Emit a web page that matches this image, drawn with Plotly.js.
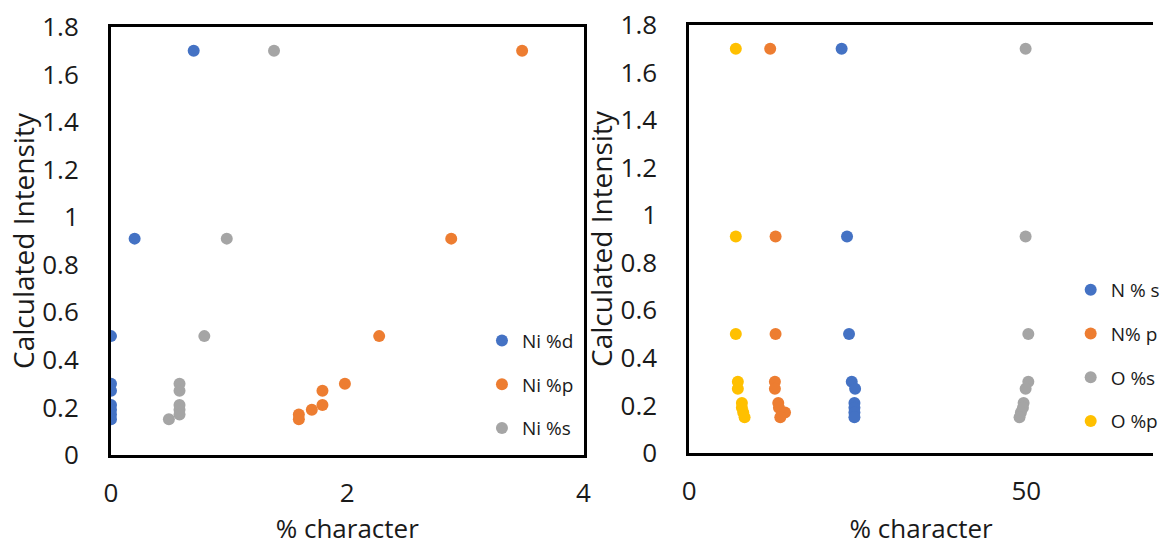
<!DOCTYPE html>
<html>
<head>
<meta charset="utf-8">
<script src="https://cdn.plot.ly/plotly-3.0.1.min.js"></script>
<style>
html,body{margin:0;padding:0;background:#fff;overflow:hidden;}
#chart{width:1165px;height:546px;}
</style>
</head>
<body>
<div id="chart"></div>
<script>
// Shared intensity levels (y values) for every series
const intensity = [1.70, 0.91, 0.50, 0.30, 0.27, 0.21, 0.19, 0.17, 0.15];

// Left panel: Ni character (%)
const niD = [0.70, 0.20, 0, 0, 0, 0, 0, 0, 0];
const niP = [3.48, 2.88, 2.27, 1.98, 1.79, 1.79, 1.70, 1.59, 1.59];
const niS = [1.38, 0.98, 0.79, 0.58, 0.58, 0.58, 0.58, 0.58, 0.49];

// Right panel: N and O character (%)
const nS = [22.6, 23.4, 23.7, 24.1, 24.6, 24.5, 24.5, 24.5, 24.5];
const nP = [12.0, 12.8, 12.8, 12.7, 12.7, 13.2, 13.3, 14.2, 13.5];
const oS = [49.9, 49.9, 50.3, 50.3, 49.9, 49.6, 49.5, 49.2, 49.0];
const oP = [6.9, 6.9, 6.9, 7.2, 7.2, 7.8, 7.8, 8.0, 8.2];

const leftNames = ['Ni %d', 'Ni %p', 'Ni %s'];
const rightNames = ['N % s', 'N% p', 'O %s', 'O %p'];
const yTicks = [0, 0.2, 0.4, 0.6, 0.8, 1, 1.2, 1.4, 1.6, 1.8];
const yTickText = ['0', '0.2', '0.4', '0.6', '0.8', '1', '1.2', '1.4', '1.6', '1.8'];

const C = {blue:'#4472C4', orange:'#ED7D31', gray:'#A5A5A5', yellow:'#FFC000'};
const FONT = '"Open Sans", "Noto Sans", sans-serif';
const TXT = '#1a1a1a';

function tr(x, name, color, xa, ya, legend) {
  return {x: x, y: intensity, name: name, type: 'scatter', mode: 'markers',
    marker: {color: color, size: 12}, xaxis: xa, yaxis: ya,
    legend: legend, legendgroup: name};
}

const data = [
  tr(niD, leftNames[0], C.blue, 'x', 'y', 'legend'),
  tr(niP, leftNames[1], C.orange, 'x', 'y', 'legend'),
  tr(niS, leftNames[2], C.gray, 'x', 'y', 'legend'),
  tr(nS, rightNames[0], C.blue, 'x2', 'y2', 'legend2'),
  tr(nP, rightNames[1], C.orange, 'x2', 'y2', 'legend2'),
  tr(oS, rightNames[2], C.gray, 'x2', 'y2', 'legend2'),
  tr(oP, rightNames[3], C.yellow, 'x2', 'y2', 'legend2')
];

const axisCommon = {
  showline: true, linecolor: '#000', linewidth: 3,
  showgrid: false, zeroline: false, ticks: '',
  tickfont: {family: FONT, size: 26, color: TXT}
};
const xTitleFont = {family: FONT, size: 26, color: TXT};
const yTitleFont = {family: FONT, size: 28, color: TXT};

const layout = {
  width: 1165, height: 546,
  margin: {l: 111, r: 0, t: 25, b: 91, pad: 0},
  paper_bgcolor: '#fff', plot_bgcolor: '#fff',
  showlegend: true,
  font: {family: FONT, color: TXT},
  xaxis: Object.assign({}, axisCommon, {
    domain: [0, 0.4535], range: [0, 4], tickvals: [0, 2, 4], ticktext: ['0', '2', '4'],
    mirror: true, anchor: 'y', ticklabelstandoff: 13,
    title: {text: '% character', font: xTitleFont, standoff: 22}
  }),
  yaxis: Object.assign({}, axisCommon, {
    domain: [0, 0.9953], range: [0, 1.8], tickvals: yTicks, ticktext: yTickText,
    mirror: true, anchor: 'x', ticklabelstandoff: 24,
    title: {text: 'Calculated Intensity', font: yTitleFont, standoff: 0}
  }),
  xaxis2: Object.assign({}, axisCommon, {
    domain: [0.555, 1], range: [0, 68.8], tickvals: [0, 50], ticktext: ['0', '50'],
    mirror: true, anchor: 'y2', ticklabelstandoff: 13,
    title: {text: '% character', font: xTitleFont, standoff: 22}
  }),
  yaxis2: Object.assign({}, axisCommon, {
    domain: [0.0047, 1], range: [0, 1.8], tickvals: yTicks, ticktext: yTickText,
    mirror: false, anchor: 'x2', ticklabelstandoff: 24,
    title: {text: 'Calculated Intensity', font: yTitleFont, standoff: 0}
  }),
  legend: {
    x: 0.356, xanchor: 'left', y: 0.31, yanchor: 'top',
    font: {family: FONT, size: 19, color: TXT},
    bgcolor: 'rgba(0,0,0,0)', borderwidth: 0,
    traceorder: 'grouped', tracegroupgap: 16, itemwidth: 30
  },
  legend2: {
    x: 0.921, xanchor: 'left', y: 0.428, yanchor: 'top',
    font: {family: FONT, size: 19, color: TXT},
    bgcolor: 'rgba(0,0,0,0)', borderwidth: 0,
    traceorder: 'grouped', tracegroupgap: 16, itemwidth: 30
  }
};

Plotly.newPlot('chart', data, layout, {displayModeBar: false, staticPlot: true});
</script>
</body>
</html>
